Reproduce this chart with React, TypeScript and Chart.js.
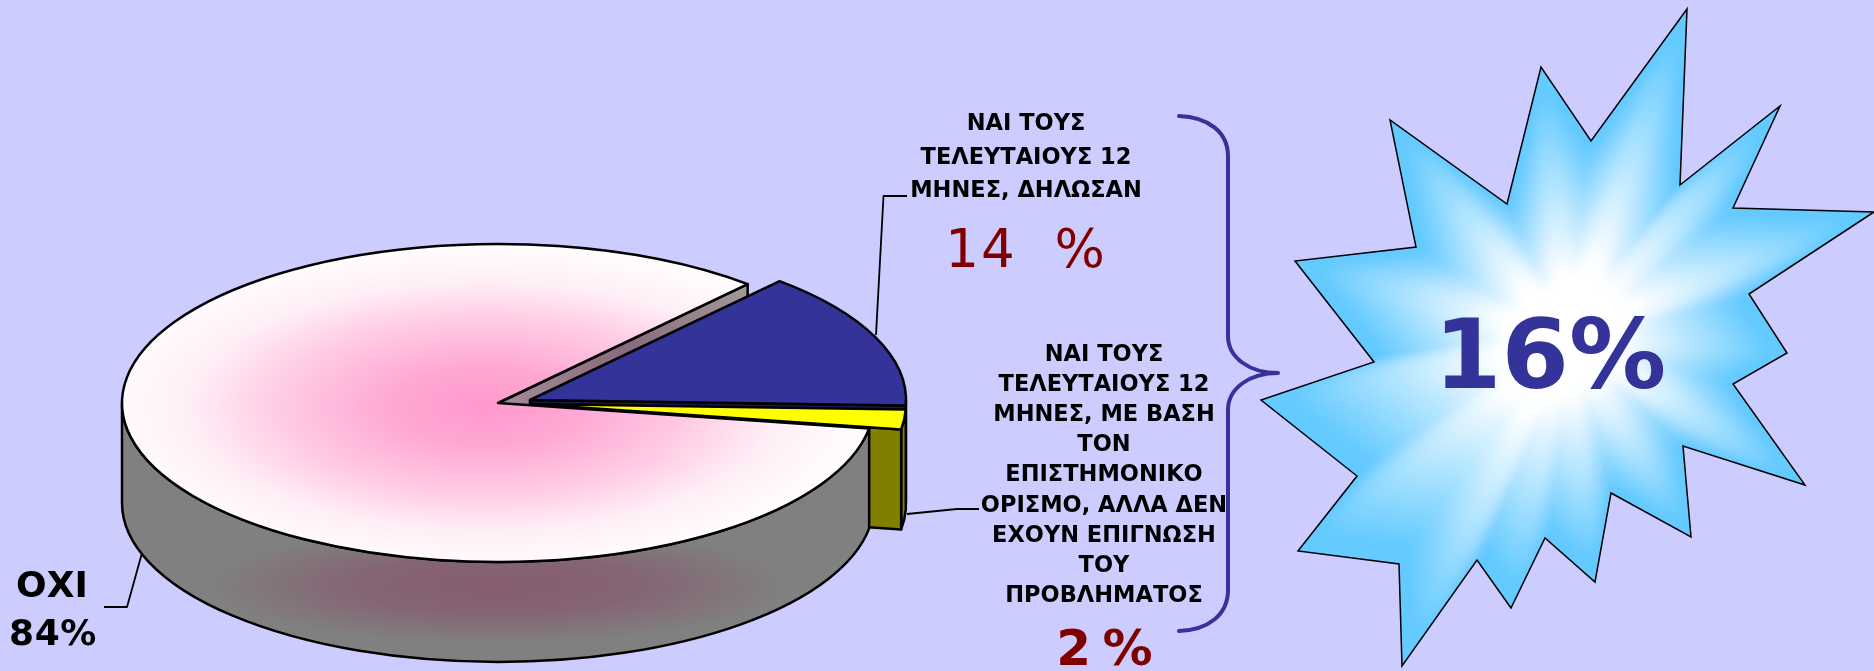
import React, { useEffect, useRef } from "react";
import { Chart, registerables } from "chart.js";

Chart.register(...registerables);

// ---- data ----
const categories = ["ΝΑΙ ΤΟΥΣ ΤΕΛΕΥΤΑΙΟΥΣ 12 ΜΗΝΕΣ, ΔΗΛΩΣΑΝ", "ΝΑΙ ΤΟΥΣ ΤΕΛΕΥΤΑΙΟΥΣ 12 ΜΗΝΕΣ, ΜΕ ΒΑΣΗ ΤΟΝ ΕΠΙΣΤΗΜΟΝΙΚΟ ΟΡΙΣΜΟ, ΑΛΛΑ ΔΕΝ ΕΧΟΥΝ ΕΠΙΓΝΩΣΗ ΤΟΥ ΠΡΟΒΛΗΜΑΤΟΣ", "ΟΧΙ"];
const values = [14, 2, 84];
const labelLinesA = ["ΝΑΙ ΤΟΥΣ", "ΤΕΛΕΥΤΑΙΟΥΣ 12", "ΜΗΝΕΣ, ΔΗΛΩΣΑΝ"];
const labelLinesB = ["ΝΑΙ ΤΟΥΣ", "ΤΕΛΕΥΤΑΙΟΥΣ 12", "ΜΗΝΕΣ, ΜΕ ΒΑΣΗ", "ΤΟΝ", "ΕΠΙΣΤΗΜΟΝΙΚΟ", "ΟΡΙΣΜΟ, ΑΛΛΑ ΔΕΝ", "ΕΧΟΥΝ ΕΠΙΓΝΩΣΗ", "ΤΟΥ", "ΠΡΟΒΛΗΜΑΤΟΣ"];
const totalLabel = "16%";

// ---- styles / geometry of the drawing ----
const W = 1874, H = 671;
const BG = "#CCCCFF";
const NAVY = "#333399";
const DARKRED = "#800000";
const RX = 376, RY = 159, DEPTH = 100;
const EXPLODE = [[32, -3], [32, 1], [0, 0]];
const WALLS = ["#1A1A4D", "#808000", "#808080"];
const FF = '"DejaVu Sans", sans-serif';

const STAR = [[1687,9],[1680,185],[1780,106],[1733,208],[1874,212],[1749,294],[1787,353],[1733,384],[1805,485],[1683,446],[1691,537],[1611,493],[1595,582],[1545,538],[1511,608],[1477,560],[1402,666],[1399,564],[1298,551],[1357,476],[1261,400],[1374,362],[1295,261],[1416,247],[1390,120],[1507,204],[1541,67],[1591,141]];
const STAR_C = [1567, 337];

function drawStar(ctx: CanvasRenderingContext2D) {
  const trace = (s: number) => {
    ctx.beginPath();
    STAR.forEach(([x, y], i) => {
      const px = STAR_C[0] + (x - STAR_C[0]) * s, py = STAR_C[1] + (y - STAR_C[1]) * s;
      if (i === 0) ctx.moveTo(px, py); else ctx.lineTo(px, py);
    });
    ctx.closePath();
  };
  ctx.save();
  trace(1);
  ctx.fillStyle = "#66CCFF";
  ctx.fill();
  ctx.clip();
  (ctx as any).filter = "blur(7px)";
  const N = 70;
  for (let i = 0; i < N; i++) {
    const t = i / N;
    const k = Math.min(1, Math.max(0, (t - 0.08) / 0.66));
    const r = Math.round(102 + 153 * k), g = Math.round(204 + 51 * k);
    ctx.fillStyle = `rgb(${r},${g},255)`;
    trace(1 - t);
    ctx.fill();
  }
  (ctx as any).filter = "none";
  ctx.restore();
  trace(1);
  ctx.strokeStyle = "#000";
  ctx.lineWidth = 1.5;
  ctx.lineJoin = "miter";
  ctx.stroke();
}

function drawBrace(ctx: CanvasRenderingContext2D) {
  ctx.beginPath();
  ctx.moveTo(1179, 116);
  ctx.bezierCurveTo(1208, 117, 1228, 132, 1228, 156);
  ctx.lineTo(1228, 336);
  ctx.bezierCurveTo(1228, 358, 1250, 373, 1278, 373);
  ctx.bezierCurveTo(1250, 373, 1228, 388, 1228, 410);
  ctx.lineTo(1228, 590);
  ctx.bezierCurveTo(1228, 615, 1208, 630, 1179, 631);
  ctx.strokeStyle = NAVY;
  ctx.lineWidth = 4;
  ctx.lineCap = "round";
  ctx.stroke();
  ctx.lineCap = "butt";
}

function leader(ctx: CanvasRenderingContext2D, pts: number[][]) {
  ctx.beginPath();
  pts.forEach(([x, y], i) => (i ? ctx.lineTo(x, y) : ctx.moveTo(x, y)));
  ctx.strokeStyle = "#000";
  ctx.lineWidth = 1.8;
  ctx.stroke();
}

function text(ctx: CanvasRenderingContext2D, s: string, x: number, y: number, font: string, color: string, ls = 0) {
  ctx.font = font;
  ctx.fillStyle = color;
  ctx.textAlign = "center";
  ctx.textBaseline = "alphabetic";
  (ctx as any).letterSpacing = `${ls}px`;
  ctx.fillText(s, x, y);
  (ctx as any).letterSpacing = "0px";
}

const pie3d = {
  id: "pie3d",
  beforeDatasetsDraw(chart: any) {
    const ctx: CanvasRenderingContext2D = chart.ctx;
    const arcs = chart.getDatasetMeta(0).data;
    const geo = arcs.map((a: any, i: number) => ({
      ax: a.x + EXPLODE[i][0],
      ay: a.y + EXPLODE[i][1],
      s: a.startAngle,
      e: a.endAngle,
    }));
    const pt = (g: any, t: number) => [g.ax + RX * Math.cos(t), g.ay + RY * Math.sin(t)];

    const outline = () => {
      ctx.strokeStyle = "#000";
      ctx.lineWidth = 2.5;
      ctx.lineJoin = "round";
      ctx.stroke();
    };
    const drawTop = (i: number) => {
      const a = arcs[i];
      const g = geo[i];
      ctx.save();
      ctx.translate(g.ax, g.ay);
      ctx.scale(RX / a.outerRadius, RY / a.outerRadius);
      ctx.translate(-a.x, -a.y);
      a.draw(ctx);
      ctx.restore();
      ctx.beginPath();
      ctx.moveTo(g.ax, g.ay);
      ctx.ellipse(g.ax, g.ay, RX, RY, 0, g.s, g.e);
      ctx.closePath();
      outline();
    };
    const cutWall = (g: any, t: number, fill: any) => {
      const [x, y] = pt(g, t);
      ctx.beginPath();
      ctx.moveTo(g.ax, g.ay);
      ctx.lineTo(x, y);
      ctx.lineTo(x, y + DEPTH);
      ctx.lineTo(g.ax, g.ay + DEPTH);
      ctx.closePath();
      ctx.fillStyle = fill;
      ctx.fill();
      outline();
    };
    const outerWall = (i: number) => {
      const g = geo[i];
      const a0 = Math.max(g.s, 0), a1 = Math.min(g.e, Math.PI);
      if (a1 <= a0) return;
      ctx.save();
      ctx.beginPath();
      ctx.ellipse(g.ax, g.ay, RX, RY, 0, a0, a1);
      ctx.ellipse(g.ax, g.ay + DEPTH, RX, RY, 0, a1, a0, true);
      ctx.closePath();
      ctx.fillStyle = WALLS[i];
      ctx.fill();
      if (i === 2) {
        ctx.save();
        ctx.clip();
        ctx.translate(g.ax, g.ay + 182);
        ctx.scale(1, 0.2);
        const rg = ctx.createRadialGradient(0, 0, 0, 0, 0, 290);
        rg.addColorStop(0, "rgba(134,92,112,1)");
        rg.addColorStop(0.5, "rgba(134,92,112,0.75)");
        rg.addColorStop(1, "rgba(134,92,112,0)");
        ctx.fillStyle = rg;
        ctx.fillRect(-400, -600, 800, 1200);
        ctx.restore();
      }
      outline();
      ctx.restore();
    };

    // wall of the main slice at its cut edge, seen through the gap
    const m = geo[2];
    const [ex, ey] = pt(m, m.e);
    const lg = ctx.createLinearGradient(m.ax, m.ay, ex, ey);
    lg.addColorStop(0, "#A58A9A");
    lg.addColorStop(0.5, "#8A6A7C");
    lg.addColorStop(1, "#A09A9A");
    cutWall(m, m.e, lg);

    // blue slice
    outerWall(0);
    cutWall(geo[0], geo[0].e, WALLS[0]);
    drawTop(0);
    // yellow slice
    outerWall(1);
    cutWall(geo[1], geo[1].e, WALLS[1]);
    drawTop(1);
    // main slice
    outerWall(2);
    drawTop(2);

    return false;
  },
  afterDraw(chart: any) {
    const ctx: CanvasRenderingContext2D = chart.ctx;
    ctx.save();
    leader(ctx, [[876, 335], [883.5, 196], [907, 196]]);
    leader(ctx, [[907, 514], [957, 509], [979, 509]]);
    leader(ctx, [[142, 553], [127, 607], [104, 607]]);
    drawBrace(ctx);
    drawStar(ctx);

    const bold = `bold 22.5px ${FF}`;
    labelLinesA.forEach((s, i) => text(ctx, s, 1026, 130 + i * 33.7, bold, "#000"));
    text(ctx, `${values[0]}  %`, 1026, 267, `53px "DejaVu Sans ExtraLight", ${FF}`, DARKRED, 2);
    labelLinesB.forEach((s, i) => text(ctx, s, 1104, 361 + i * 30.1, bold, "#000"));
    text(ctx, `${values[1]} %`, 1103, 665, `bold 50px ${FF}`, DARKRED, -3);
    text(ctx, "ΟΧΙ", 52, 597, `bold 36px ${FF}`, "#000");
    text(ctx, `${values[2]}%`, 53, 645, `bold 36px ${FF}`, "#000", 0.6);
    text(ctx, totalLabel, 1550, 388, `bold 97px ${FF}`, NAVY);
    ctx.restore();
  },
};

export default function App() {
  const ref = useRef<HTMLCanvasElement>(null);
  useEffect(() => {
    document.body.style.margin = "0";
    document.body.style.background = BG;
    const canvas = ref.current!;
    const chart = new Chart(canvas, {
      type: "pie",
      data: {
        labels: categories,
        datasets: [
          {
            data: values,
            borderWidth: 0,
            backgroundColor: (c: any) => {
              if (c.dataIndex === 0) return NAVY;
              if (c.dataIndex === 1) return "#FFFF00";
              const area = c.chart.chartArea;
              if (!area) return "#FFE0F0";
              const cx = (area.left + area.right) / 2, cy = (area.top + area.bottom) / 2;
              const R = Math.min(area.width, area.height) / 2;
              const g = c.chart.ctx.createRadialGradient(cx - 10, cy + 6, 0, cx - 10, cy + 6, R);
              g.addColorStop(0, "#FF99CC");
              g.addColorStop(0.25, "#FFA8D4");
              g.addColorStop(0.55, "#FFCCE5");
              g.addColorStop(0.78, "#FFEEF6");
              g.addColorStop(1, "#FFFCFE");
              return g;
            },
          },
        ],
      },
      options: {
        responsive: false,
        animation: false,
        rotation: 41.6,
        layout: { padding: { top: 135, bottom: 0, left: 230, right: 1108 } },
        plugins: { legend: { display: false }, title: { display: false }, tooltip: { enabled: false } },
      },
      plugins: [pie3d],
    } as any);
    return () => chart.destroy();
  }, []);
  return (
    <div style={{ position: "absolute", left: 0, top: 0, width: W, height: H, background: BG }}>
      <canvas ref={ref} width={W} height={H} style={{ display: "block", width: W, height: H }} />
    </div>
  );
}
